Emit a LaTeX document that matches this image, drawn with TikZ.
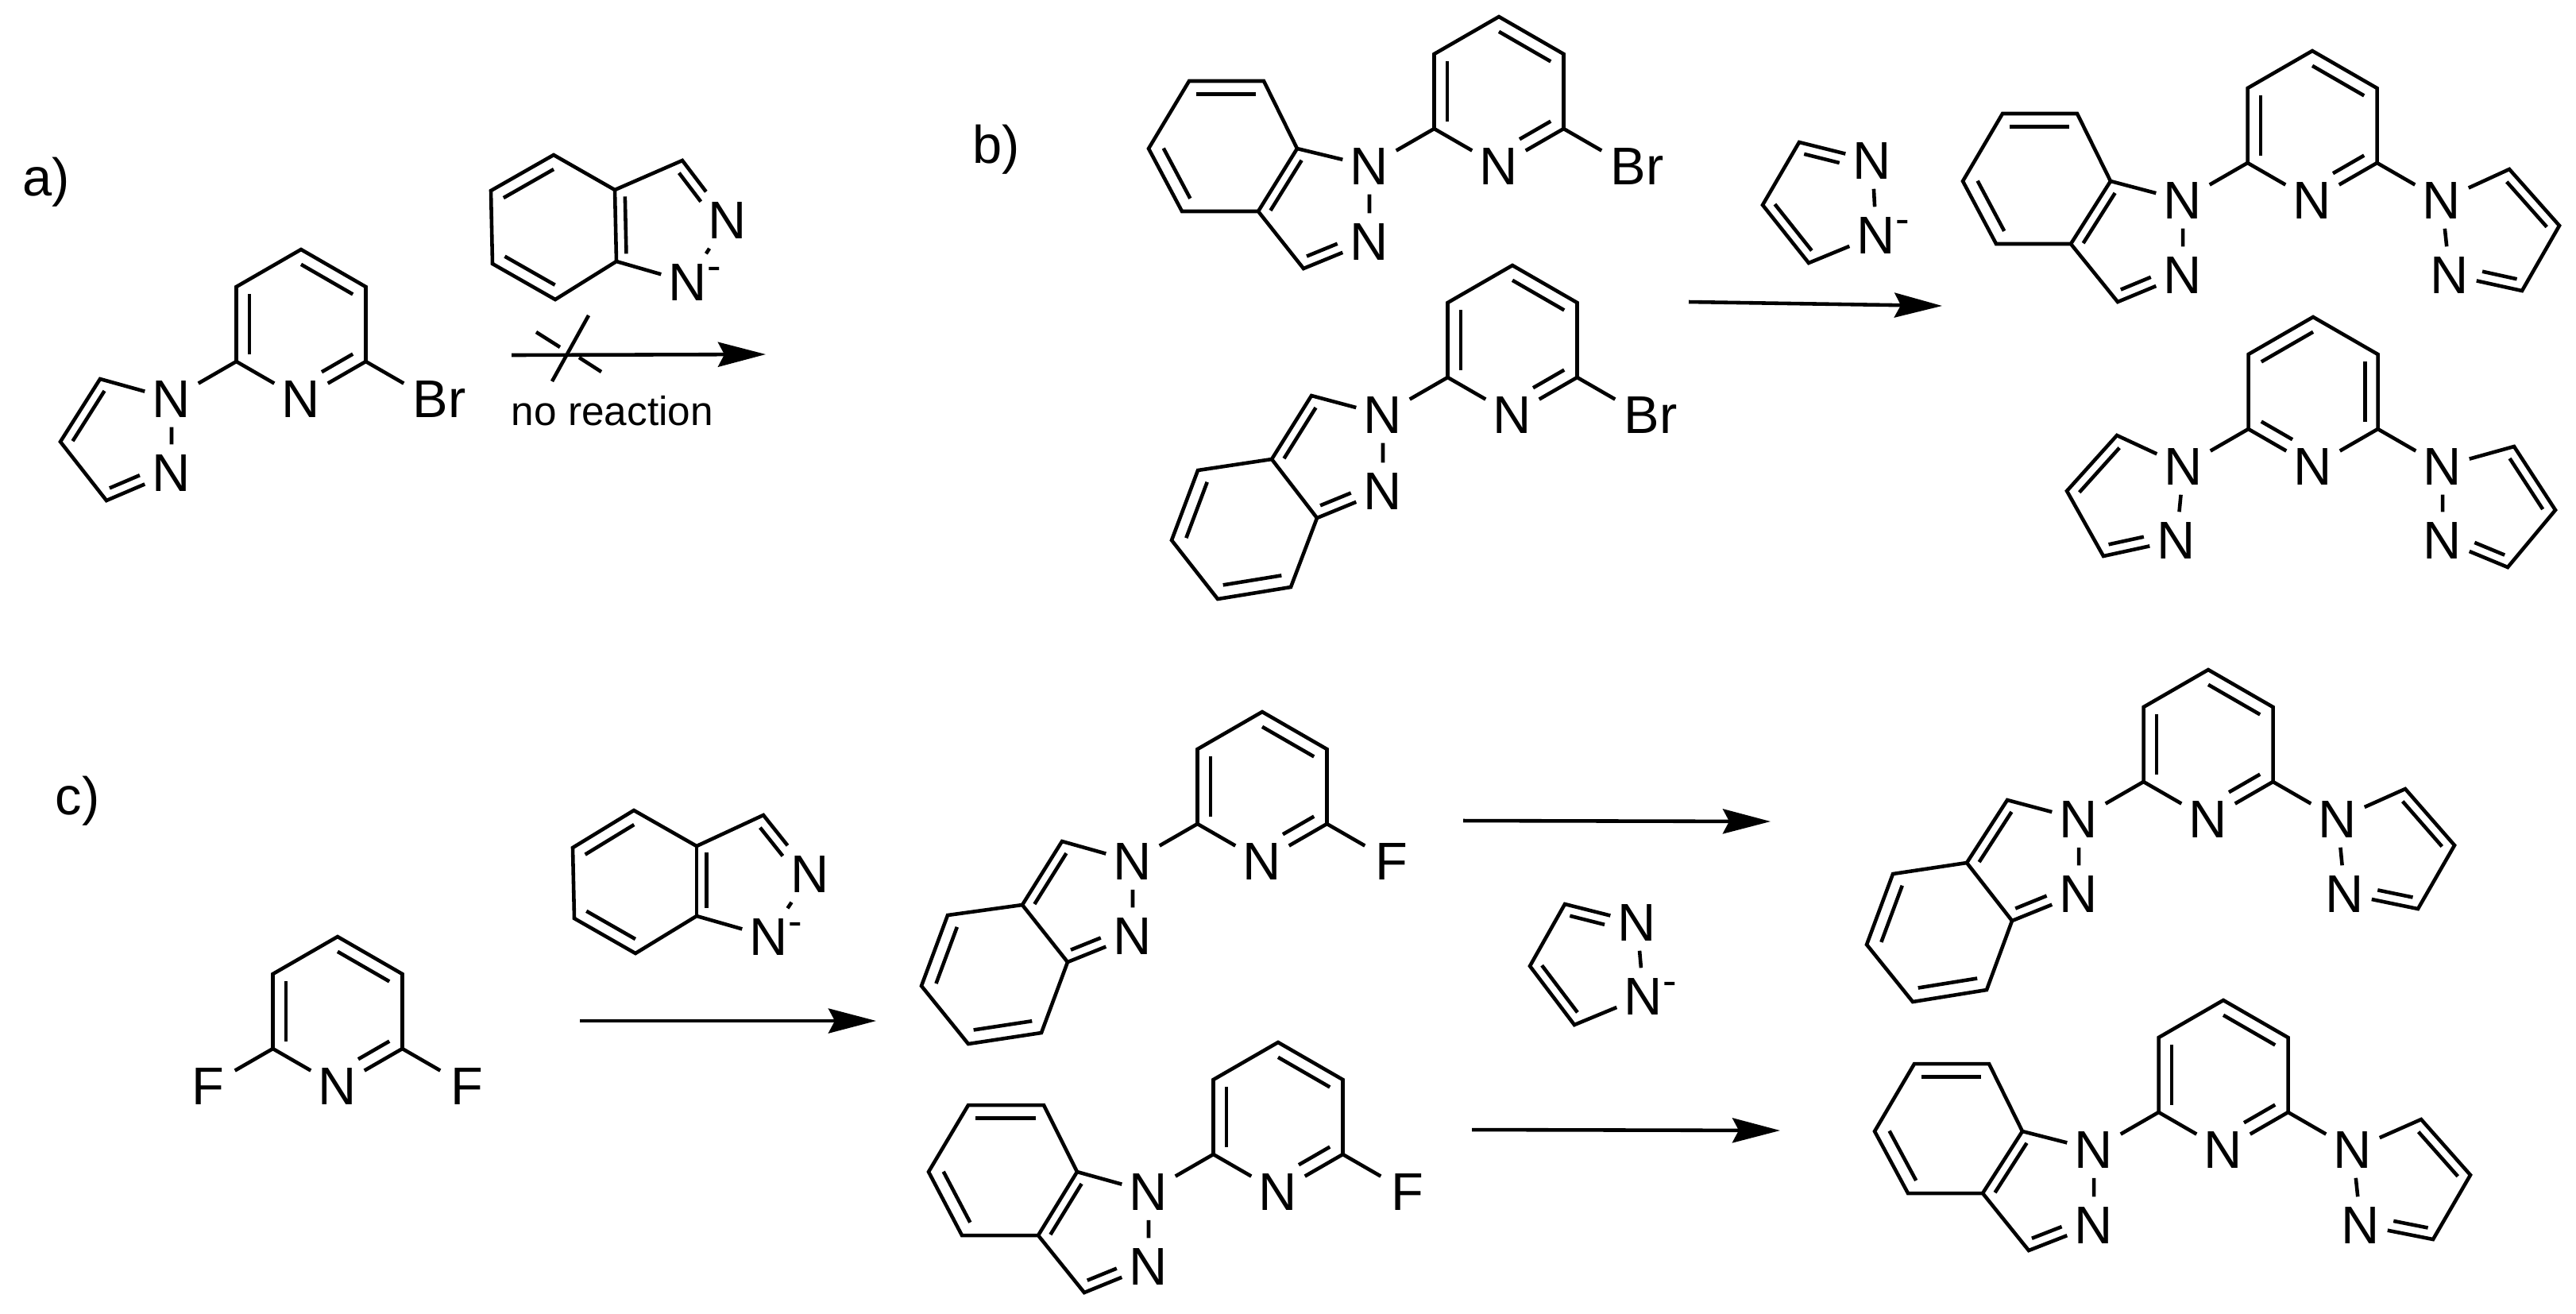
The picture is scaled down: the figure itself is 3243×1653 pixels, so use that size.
\documentclass[tikz,border=0pt]{standalone}
\usepackage{fontspec}
\setmainfont{Liberation Sans}
\usetikzlibrary{arrows.meta, calc}

\tikzset{
    bond/.style={line width=1.3pt},
    atom/.style={inner sep=0pt, minimum width=.66cm, minimum height=.7cm, font=\fontsize{19}{19}\selectfont},
    tag/.style={inner sep=0pt, anchor=base west, font=\fontsize{19}{19}\selectfont},
    rxn/.style={line width=1.3pt, -{Stealth[length=.6cm,width=.31cm,inset=.08cm]}}
}

\newcommand{\Nminus}{N\rlap{\raisebox{.25cm}{\fontsize{15}{15}\selectfont -}}}
\newcommand{\Brom}{B\rlap{r}}
\newcommand{\dbl}[4][]{\draw [bond,#1] ($(#2)!.2!(#4)$) -- ($(#3)!.2!(#4)$);}

\newcommand{\pyridinebase}[2]{
    \begin{scope}[shift={(#2)}]
        \node [atom] (#1py) at (0,0) {N};
        \coordinate (#1c2) at (-81.5,-47);
        \coordinate (#1c3) at (-81.5,-141);
        \coordinate (#1c4) at (0,-188);
        \coordinate (#1c5) at (81.5,-141);
        \coordinate (#1c6) at (81.5,-47);
        \coordinate (#1mid) at (0,-94);
    \end{scope}
    \draw [bond] (#1c6) -- (#1c5) -- (#1c4) -- (#1c3) -- (#1c2) -- (#1py) -- (#1c6);
}
\newcommand{\pyridine}[2]{
    \pyridinebase{#1}{#2}
    \dbl{#1c2}{#1c3}{#1mid}
    \dbl{#1c4}{#1c5}{#1mid}
    \dbl[shorten >=.3cm]{#1c6}{#1py}{#1mid}
}
\newcommand{\pyridineB}[2]{
    \pyridinebase{#1}{#2}
    \dbl{#1c3}{#1c4}{#1mid}
    \dbl{#1c5}{#1c6}{#1mid}
    \dbl[shorten >=.3cm]{#1c2}{#1py}{#1mid}
}

% c5 c4 c3 of the five ring, its nodes are #1n1 and #1n2
\newcommand{\pyrazole}[4]{
    \coordinate (#1a) at (#2);
    \coordinate (#1b) at (#3);
    \coordinate (#1d) at (#4);
    \coordinate (#1z) at (barycentric cs:#1n1=1,#1n2=1,#1a=1,#1b=1,#1d=1);
    \draw [bond] (#1n2) -- (#1n1) -- (#1a) -- (#1b) -- (#1d) -- (#1n2);
    \dbl{#1a}{#1b}{#1z}
    \dbl[shorten >=.3cm]{#1d}{#1n2}{#1z}
}

% c7a c7 c6 c5 c4 c3a c3
\newcommand{\indazole}[8]{
    \coordinate (#1a) at (#2);
    \coordinate (#1b) at (#3);
    \coordinate (#1d) at (#4);
    \coordinate (#1e) at (#5);
    \coordinate (#1f) at (#6);
    \coordinate (#1g) at (#7);
    \coordinate (#1h) at (#8);
    \coordinate (#1z) at (barycentric cs:#1n1=1,#1n2=1,#1a=1,#1g=1,#1h=1);
    \coordinate (#1y) at (barycentric cs:#1a=1,#1b=1,#1d=1,#1e=1,#1f=1,#1g=1);
    \draw [bond] (#1n2) -- (#1n1) -- (#1a) -- (#1b) -- (#1d) -- (#1e) -- (#1f) -- (#1g) -- (#1h) -- (#1n2);
    \draw [bond] (#1g) -- (#1a);
    \dbl{#1b}{#1d}{#1y}
    \dbl{#1e}{#1f}{#1y}
    \dbl{#1g}{#1a}{#1z}
    \dbl[shorten >=.3cm]{#1h}{#1n2}{#1z}
}
% c3 c3a c4 c5 c6 c7 c7a
\newcommand{\isoindazole}[8]{
    \coordinate (#1a) at (#2);
    \coordinate (#1b) at (#3);
    \coordinate (#1d) at (#4);
    \coordinate (#1e) at (#5);
    \coordinate (#1f) at (#6);
    \coordinate (#1g) at (#7);
    \coordinate (#1h) at (#8);
    \coordinate (#1z) at (barycentric cs:#1n1=1,#1n2=1,#1a=1,#1b=1,#1h=1);
    \coordinate (#1y) at (barycentric cs:#1b=1,#1d=1,#1e=1,#1f=1,#1g=1,#1h=1);
    \draw [bond] (#1n2) -- (#1n1) -- (#1a) -- (#1b) -- (#1d) -- (#1e) -- (#1f) -- (#1g) -- (#1h) -- (#1n2);
    \draw [bond] (#1b) -- (#1h);
    \dbl{#1d}{#1e}{#1y}
    \dbl{#1f}{#1g}{#1y}
    \dbl{#1a}{#1b}{#1z}
    \dbl[shorten >=.3cm]{#1h}{#1n2}{#1z}
}

\begin{document}
\begin{tikzpicture}[x=.01cm, y=-.01cm]
    \useasboundingbox (0,0) rectangle (3243,1653);

    \node [tag] (taga) at (28,246) {a)};
    \node [tag] (tagb) at (1224,205) {b)};
    \node [tag] (tagc) at (69,1025) {c)};

    % a)
    \pyridine{sma}{379,502}
    \node [atom] (smabr) at (542,502) {\Brom};
    \node [atom] (sman1) at (216,502) {N};
    \node [atom] (sman2) at (216,595) {N};
    \draw [bond] (smac6) -- (smabr);
    \draw [bond] (smac2) -- (sman1);
    \pyrazole{sma}{126,477}{76,556}{134,630}

    \node [atom] (inan1) at (866,355) {\Nminus};
    \node [atom] (inan2) at (916,277) {N};
    \indazole{ina}{776,329}{699,377}{620,332}{618,240}{697,195}{774,239}{859,202}

    \coordinate (arrastart) at (644,447);
    \coordinate (arraend) at (964,446);
    \draw [rxn] (arrastart) -- (arraend);
    \coordinate (crossa) at (741,397);
    \coordinate (crossb) at (695,480);
    \coordinate (crossc) at (675,418);
    \coordinate (crossd) at (705,437);
    \coordinate (crosse) at (729,450);
    \coordinate (crossf) at (757,468);
    \draw [bond] (crossa) -- (crossb);
    \draw [bond] (crossc) -- (crossd);
    \draw [bond] (crosse) -- (crossf);
    \node [inner sep=0pt, anchor=base, font=\fontsize{14.6}{15}\selectfont] (noreact) at (771,535) {no reaction};

    % b)
    \pyridine{pa}{1887,209}
    \node [atom] (pabr) at (2050,209) {\Brom};
    \node [atom] (pan1) at (1724,209) {N};
    \node [atom] (pan2) at (1724,304) {N};
    \draw [bond] (pac6) -- (pabr);
    \draw [bond] (pac2) -- (pan1);
    \indazole{pa}{1633,187}{1591,102}{1497,102}{1446,187}{1488,266}{1584,266}{1641,338}

    \pyridine{pb}{1904,522}
    \node [atom] (pbbr) at (2067,522) {\Brom};
    \node [atom] (pbn1) at (1741,522) {N};
    \node [atom] (pbn2) at (1741,618) {N};
    \draw [bond] (pbc6) -- (pbbr);
    \draw [bond] (pbc2) -- (pbn1);
    \isoindazole{pb}{1651,498}{1601,578}{1508,592}{1475,680}{1533,754}{1625,739}{1658,652}

    \node [atom] (pzbn1) at (2362,296) {\Nminus};
    \node [atom] (pzbn2) at (2357,202) {N};
    \pyrazole{pzb}{2277,331}{2219,258}{2265,179}

    \coordinate (arrbstart) at (2126,380);
    \coordinate (arrbend) at (2445,385);
    \draw [rxn] (arrbstart) -- (arrbend);

    \pyridine{qa}{2911,252}
    \node [atom] (qan1) at (2748,252) {N};
    \node [atom] (qan2) at (2748,346) {N};
    \node [atom] (qrn1) at (3074,252) {N};
    \node [atom] (qrn2) at (3084,346) {N};
    \draw [bond] (qac2) -- (qan1);
    \draw [bond] (qac6) -- (qrn1);
    \indazole{qa}{2657,228}{2615,143}{2521,143}{2471,228}{2513,307}{2607,307}{2666,380}
    \pyrazole{qr}{3159,213}{3222,284}{3175,366}

    \pyridineB{qb}{2912,587}
    \node [atom] (qln1) at (2749,587) {N};
    \node [atom] (qln2) at (2740,680) {N};
    \node [atom] (qsn1) at (3075,587) {N};
    \node [atom] (qsn2) at (3075,680) {N};
    \draw [bond] (qbc2) -- (qln1);
    \draw [bond] (qbc6) -- (qsn1);
    \pyrazole{ql}{2665,548}{2602,618}{2648,700}
    \pyrazole{qs}{3165,562}{3217,642}{3157,714}

    % c)
    \pyridine{smc}{425,1367}
    \node [atom] (smcfa) at (262,1367) {F};
    \node [atom] (smcfb) at (588,1367) {F};
    \draw [bond] (smcc2) -- (smcfa);
    \draw [bond] (smcc6) -- (smcfb);

    \node [atom] (incn1) at (968,1179) {\Nminus};
    \node [atom] (incn2) at (1020,1100) {N};
    \indazole{inc}{877,1153}{800,1200}{723,1156}{721,1067}{798,1020}{877,1065}{961,1026}

    \coordinate (arrcstart) at (730,1285);
    \coordinate (arrcend) at (1103,1285);
    \draw [rxn] (arrcstart) -- (arrcend);

    \pyridine{ra}{1589,1084}
    \node [atom] (rafl) at (1752,1084) {F};
    \node [atom] (ran1) at (1426,1084) {N};
    \node [atom] (ran2) at (1426,1178) {N};
    \draw [bond] (rac6) -- (rafl);
    \draw [bond] (rac2) -- (ran1);
    \isoindazole{ra}{1337,1059}{1287,1139}{1193,1152}{1160,1241}{1219,1314}{1311,1300}{1344,1211}

    \pyridine{rb}{1609,1500}
    \node [atom] (rbfl) at (1772,1500) {F};
    \node [atom] (rbn1) at (1446,1500) {N};
    \node [atom] (rbn2) at (1446,1594) {N};
    \draw [bond] (rbc6) -- (rbfl);
    \draw [bond] (rbc2) -- (rbn1);
    \indazole{rb}{1356,1475}{1314,1391}{1219,1391}{1169,1475}{1211,1555}{1307,1555}{1365,1627}

    \coordinate (arrdstart) at (1842,1033);
    \coordinate (arrdend) at (2229,1034);
    \draw [rxn] (arrdstart) -- (arrdend);
    \coordinate (arrestart) at (1853,1422);
    \coordinate (arreend) at (2241,1423);
    \draw [rxn] (arrestart) -- (arreend);

    \node [atom] (pzcn1) at (2069,1254) {\Nminus};
    \node [atom] (pzcn2) at (2061,1161) {N};
    \pyrazole{pzc}{1982,1290}{1926,1216}{1970,1138}

    \pyridine{sa}{2780,1031}
    \node [atom] (san1) at (2617,1031) {N};
    \node [atom] (san2) at (2617,1125) {N};
    \node [atom] (stn1) at (2943,1031) {N};
    \node [atom] (stn2) at (2952,1125) {N};
    \draw [bond] (sac2) -- (san1);
    \draw [bond] (sac6) -- (stn1);
    \isoindazole{sa}{2527,1007}{2476,1086}{2383,1100}{2350,1189}{2408,1261}{2501,1246}{2533,1159}
    \pyrazole{st}{3028,993}{3090,1064}{3044,1144}

    \pyridine{sb}{2799,1447}
    \node [atom] (sbn1) at (2636,1447) {N};
    \node [atom] (sbn2) at (2636,1542) {N};
    \node [atom] (sun1) at (2962,1447) {N};
    \node [atom] (sun2) at (2972,1542) {N};
    \draw [bond] (sbc2) -- (sbn1);
    \draw [bond] (sbc6) -- (sun1);
    \indazole{sb}{2546,1424}{2504,1339}{2410,1339}{2360,1424}{2402,1502}{2496,1502}{2554,1574}
    \pyrazole{su}{3048,1409}{3110,1479}{3063,1560}
\end{tikzpicture}
\end{document}
